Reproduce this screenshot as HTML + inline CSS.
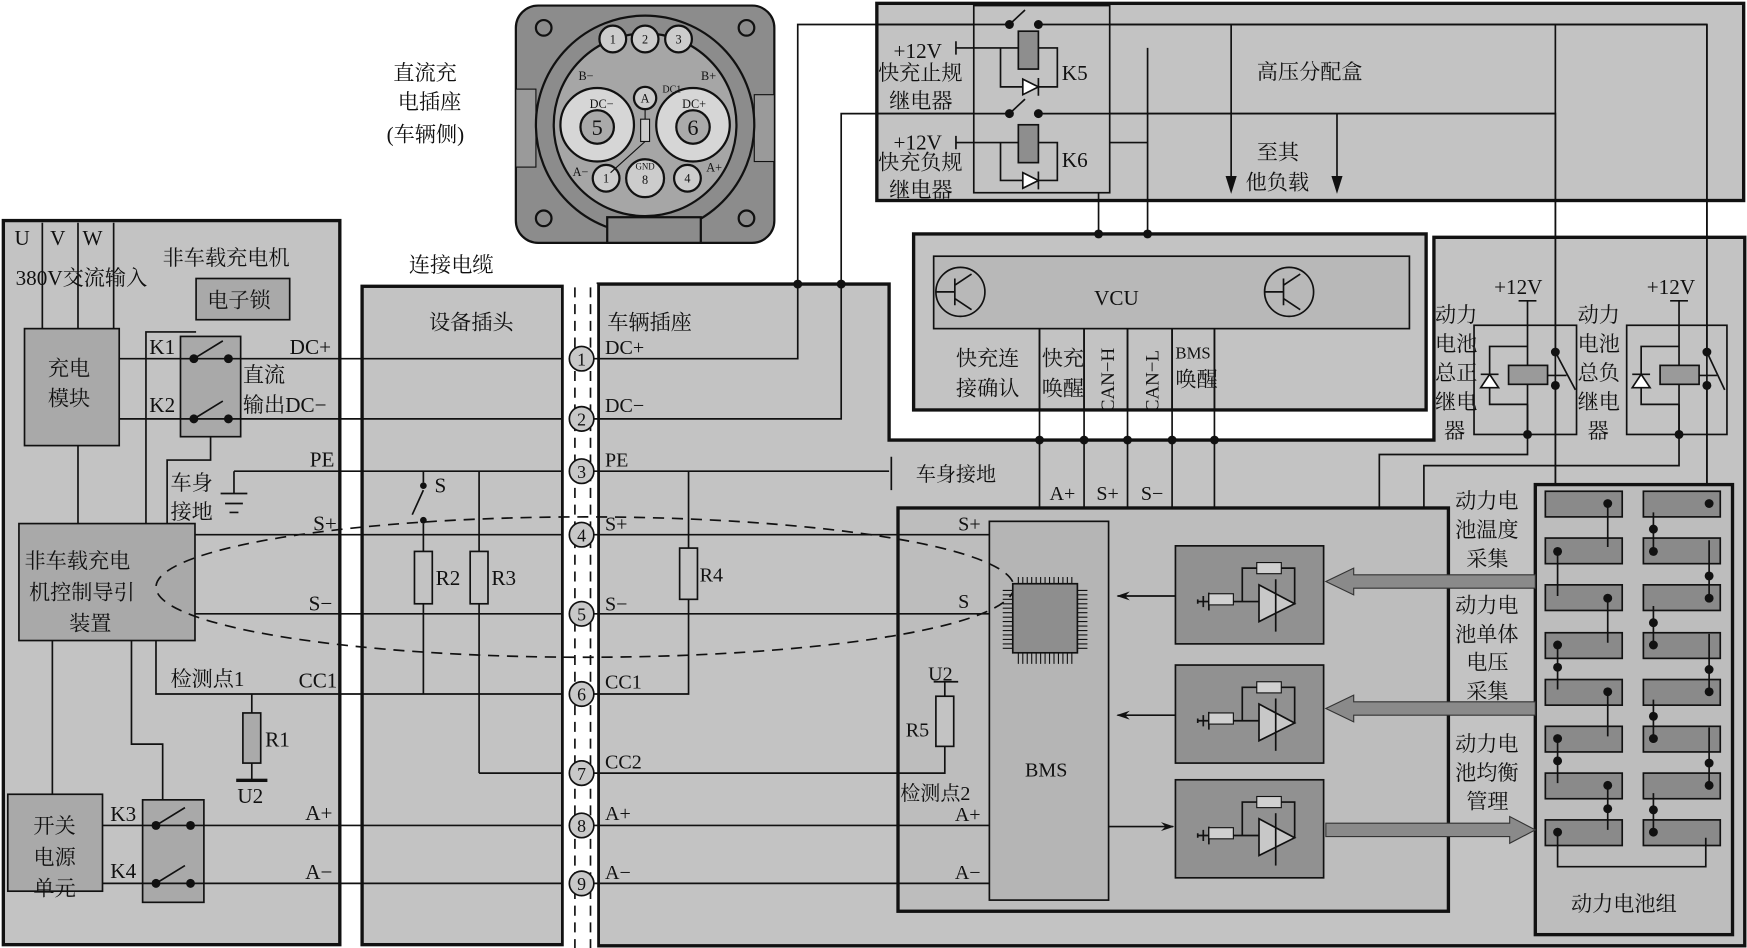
<!DOCTYPE html>
<html><head><meta charset="utf-8"><style>
html,body{margin:0;padding:0;background:#fff}
svg{display:block}
text{font-family:"Liberation Serif","Noto Serif CJK SC",serif;fill:#111}
</style></head><body>
<svg width="1747" height="948" viewBox="0 0 1568 851" preserveAspectRatio="none" xmlns="http://www.w3.org/2000/svg">
<defs>
<marker id="ar" markerWidth="12" markerHeight="8" refX="11" refY="4" orient="auto" markerUnits="userSpaceOnUse"><path d="M0,0 L12,4 L0,8 L4,4z" fill="#111"/></marker>
</defs>
<g stroke="#111" stroke-width="1.5">
<rect x="3" y="198" width="302" height="650" fill="#c3c3c3" stroke-width="3"/>
<rect x="325" y="257" width="180" height="591" fill="#c3c3c3" stroke-width="3"/>
<polygon points="537,255 798,255 798,395 1287,395 1287,213 1566,213 1566,849 537,849" fill="#c3c3c3" stroke-width="3"/>
<rect x="787" y="3" width="778" height="177" fill="#c3c3c3" stroke-width="3"/>
<rect x="820" y="210" width="460" height="158" fill="#c3c3c3" stroke-width="3"/>
<rect x="838" y="230" width="427" height="65" fill="#b8b8b8"/>
<rect x="806" y="456" width="494" height="362" fill="#bdbdbd" stroke-width="3"/>
<rect x="888" y="468" width="107" height="340" fill="#b5b5b5"/>
<rect x="1378" y="435" width="177" height="404" fill="#bdbdbd" stroke-width="3"/>
</g>
<!-- charging port -->
<g stroke="#111" stroke-width="2">
<rect x="463" y="5" width="232" height="213" rx="20" fill="#8c8c8c"/>
<rect x="463" y="80" width="18" height="70" fill="#9a9a9a" stroke-width="1"/>
<rect x="677" y="85" width="18" height="60" fill="#9a9a9a" stroke-width="1"/>
<circle cx="579" cy="112" r="98" fill="#8c8c8c"/>
<circle cx="579" cy="112" r="82" fill="#a6a6a6"/>
<circle cx="488" cy="25" r="7" fill="#8c8c8c"/><circle cx="670" cy="25" r="7" fill="#8c8c8c"/>
<circle cx="488" cy="196" r="7" fill="#8c8c8c"/><circle cx="670" cy="196" r="7" fill="#8c8c8c"/>
<rect x="545" y="195" width="84" height="23" fill="#8c8c8c"/>
<circle cx="536" cy="112" r="33" fill="#d6d6d6"/><circle cx="536" cy="114" r="15" fill="#aaa"/>
<circle cx="622" cy="112" r="33" fill="#d6d6d6"/><circle cx="622" cy="114" r="15" fill="#aaa"/>
<circle cx="550" cy="35" r="12" fill="#ccc"/><circle cx="579" cy="35" r="12" fill="#ccc"/><circle cx="609" cy="35" r="12" fill="#ccc"/>
<circle cx="579" cy="88" r="10" fill="#ccc"/>
<circle cx="544" cy="160" r="12" fill="#ccc"/><circle cx="579" cy="160" r="17" fill="#ccc"/><circle cx="617" cy="160" r="12" fill="#ccc"/>
<rect x="575" y="107" width="8" height="20" fill="#ccc" stroke-width="1"/>
<line x1="579" y1="98" x2="579" y2="107" stroke-width="1"/><line x1="579" y1="127" x2="548" y2="155" stroke-width="1"/>
</g>
<g font-size="11" text-anchor="middle">
<text x="550" y="39">1</text><text x="579" y="39">2</text><text x="609" y="39">3</text><text x="579" y="92">A</text>
<text x="544" y="164">1</text><text x="579" y="165">8</text><text x="617" y="164">4</text>
<text x="526" y="72">B−</text><text x="636" y="72">B+</text><text x="603" y="83" font-size="9">DC1</text>
<text x="540" y="97">DC−</text><text x="623" y="97">DC+</text><text x="579" y="152" font-size="8">GND</text>
<text x="521" y="158">A−</text><text x="641" y="154">A+</text>
<text x="536" y="121" font-size="20">5</text><text x="622" y="121" font-size="20">6</text>
</g>
<g font-size="19">
<text x="353" y="72">直流充</text><text x="357" y="98">电插座</text><text x="347" y="127">(车辆侧)</text>
<text x="367" y="244">连接电缆</text>
<text x="385" y="296">设备插头</text><text x="545" y="296">车辆插座</text>
<text x="13" y="220">U</text><text x="45" y="220">V</text><text x="74" y="220">W</text>
<text x="146" y="238">非车载充电机</text><text x="14" y="256">380V交流输入</text>
</g>
<!-- left internal -->
<g stroke="#111" stroke-width="1.5" fill="#a9a9a9">
<rect x="22" y="295" width="85" height="105"/>
<rect x="176" y="250" width="84" height="37"/>
<rect x="162" y="302" width="54" height="90"/>
<rect x="17" y="470" width="158" height="105"/>
<rect x="7" y="713" width="85" height="87"/>
<rect x="128" y="718" width="55" height="92"/>
</g>
<g stroke="#111" stroke-width="1.5" fill="none">
<path d="M38,200V295M70,200V295M102,200V295"/>
<path d="M131,470V298H176"/>
<path d="M70,400V470"/>
<path d="M189,392V413H150V470"/>
<path d="M47,575V713"/><path d="M118,575V668H146V718"/>
<path d="M140,575V623H516"/>
<path d="M226,623V640M226,685V700"/>
<path d="M107,322H516M107,376H516"/>
<path d="M210,423H516M210,423V443M198,443H222M202,452H218M206,460H214"/>
<path d="M175,480H516M175,551H516"/>
<path d="M92,741H516M92,793H516"/>
<path d="M430,694H516"/>
<path d="M174,322L200,306M174,376L200,360M140,741L166,725M140,793L166,777"/>
<path d="M380,423V433M380,440L370,462M380,470V495M380,542V623"/>
<path d="M430,423V498M430,542V694"/>
</g>
<rect x="218" y="640" width="16" height="45" fill="#aaa" stroke="#111" stroke-width="1.5"/>
<rect x="212" y="699" width="28" height="3" fill="#111"/>
<rect x="372" y="495" width="16" height="47" fill="#c3c3c3" stroke="#111" stroke-width="1.5"/>
<rect x="422" y="495" width="16" height="47" fill="#c3c3c3" stroke="#111" stroke-width="1.5"/>
<g fill="#111">
<circle cx="174" cy="322" r="4"/><circle cx="205" cy="322" r="4"/><circle cx="174" cy="376" r="4"/><circle cx="205" cy="376" r="4"/>
<circle cx="140" cy="741" r="4"/><circle cx="171" cy="741" r="4"/><circle cx="140" cy="793" r="4"/><circle cx="171" cy="793" r="4"/>
<circle cx="380" cy="436" r="3"/><circle cx="380" cy="467" r="3"/>
</g>
<g font-size="19">
<text x="43" y="337">充电</text><text x="43" y="364">模块</text>
<text x="186" y="276">电子锁</text>
<text x="134" y="318">K1</text><text x="134" y="370">K2</text>
<text x="260" y="318">DC+</text><text x="218" y="343">直流</text><text x="218" y="370">输出DC−</text>
<text x="278" y="419">PE</text>
<text x="153" y="440">车身</text><text x="153" y="466">接地</text>
<text x="281" y="476">S+</text><text x="277" y="548">S−</text>
<text x="22" y="510">非车载充电</text><text x="26" y="538">机控制导引</text><text x="62" y="566">装置</text>
<text x="153" y="616">检测点1</text><text x="268" y="617">CC1</text>
<text x="238" y="670">R1</text><text x="213" y="721">U2</text>
<text x="30" y="748">开关</text><text x="30" y="776">电源</text><text x="30" y="804">单元</text>
<text x="99" y="737">K3</text><text x="99" y="788">K4</text>
<text x="274" y="736">A+</text><text x="274" y="789">A−</text>
<text x="390" y="442">S</text><text x="391" y="525">R2</text><text x="441" y="525">R3</text>
</g>
<rect x="506" y="255" width="30" height="596" fill="#fff"/>
<g stroke="#111" stroke-width="1.5" fill="none">
<path d="M516,258V851M530,258V851" stroke-dasharray="9,6"/>
</g>
<!-- vehicle side lines -->
<g stroke="#111" stroke-width="1.5" fill="none">
<path d="M528,322H716V22H1532V435"/>
<path d="M528,376H755V102H1396V435"/>
<path d="M528,423H798M800,410V440"/>
<path d="M528,480H888M528,551H888M528,741H888M528,793H888"/>
<path d="M528,694H848V670M848,625V612M838,612H860"/>
<path d="M528,623H618V538M618,492V423"/>
<path d="M1105,22V170M1200,102V170"/>
<path d="M1030,43V210M986,128V210M949,128H1030"/>
<path d="M933,295V456M973,295V456M1012,295V456M1052,295V456M1090,295V456"/>
<path d="M933,395H1090"/>
<path d="M1371,363V408H1238V456M1507,363V418H1278V456"/>
</g>
<rect x="610" y="492" width="16" height="46" fill="#c3c3c3" stroke="#111" stroke-width="1.5"/>
<rect x="840" y="625" width="16" height="45" fill="#c3c3c3" stroke="#111" stroke-width="1.5"/>
<g fill="#111"><circle cx="716" cy="255" r="4"/><circle cx="755" cy="255" r="4"/>
<circle cx="986" cy="210" r="4"/><circle cx="1030" cy="210" r="4"/>
<circle cx="933" cy="395" r="4"/><circle cx="973" cy="395" r="4"/><circle cx="1012" cy="395" r="4"/><circle cx="1052" cy="395" r="4"/><circle cx="1090" cy="395" r="4"/>
<path d="M1100,158L1105,174L1110,158z"/><path d="M1195,158L1200,174L1205,158z"/></g>
<g stroke="#111" stroke-width="1.5" fill="#c8c8c8">
<circle cx="522" cy="322" r="11"/><circle cx="522" cy="376" r="11"/><circle cx="522" cy="423" r="11"/>
<circle cx="522" cy="480" r="11"/><circle cx="522" cy="551" r="11"/><circle cx="522" cy="623" r="11"/>
<circle cx="522" cy="694" r="11"/><circle cx="522" cy="741" r="11"/><circle cx="522" cy="793" r="11"/>
</g>
<g font-size="16" text-anchor="middle">
<text x="522" y="328">1</text><text x="522" y="382">2</text><text x="522" y="429">3</text><text x="522" y="486">4</text><text x="522" y="557">5</text><text x="522" y="629">6</text><text x="522" y="700">7</text><text x="522" y="747">8</text><text x="522" y="799">9</text>
</g>
<ellipse cx="525" cy="527" rx="385" ry="63" fill="none" stroke="#111" stroke-width="1.5" stroke-dasharray="10,7"/>
<g font-size="18">
<text x="543" y="318">DC+</text><text x="543" y="370">DC−</text><text x="543" y="419">PE</text>
<text x="543" y="476">S+</text><text x="543" y="548">S−</text><text x="543" y="618">CC1</text>
<text x="543" y="690">CC2</text><text x="543" y="736">A+</text><text x="543" y="789">A−</text>
<text x="628" y="522">R4</text><text x="822" y="432">车身接地</text>
<text x="942" y="449">A+</text><text x="984" y="449">S+</text><text x="1024" y="449">S−</text>
<text x="860" y="476">S+</text><text x="860" y="546">S</text>
<text x="833" y="611">U2</text><text x="813" y="661">R5</text>
<text x="808" y="718">检测点2</text><text x="857" y="737">A+</text><text x="857" y="789">A−</text>
<text x="920" y="697">BMS</text>
</g>
<!-- HV relays -->
<rect x="874" y="5" width="122" height="168" fill="#c3c3c3" stroke="#111" stroke-width="1.5"/>
<g stroke="#111" stroke-width="1.5" fill="none">
<path d="M787,22H906M932,22H1532M787,102H906M932,102H1396"/>
<path d="M858,43H949V78H898V43M858,128H949V162H898V128"/>
<path d="M858,37V49M858,122V134"/>
<path d="M906,22L920,9M906,102L920,89"/>
<path d="M918,71L932,78L918,85zM918,155L932,162L918,169z" fill="#fff"/>
<path d="M932,70V86M932,154V170"/>
</g>
<rect x="914" y="28" width="18" height="34" fill="#8e8e8e" stroke="#111" stroke-width="1.5"/>
<rect x="914" y="112" width="18" height="34" fill="#8e8e8e" stroke="#111" stroke-width="1.5"/>
<g fill="#111"><circle cx="906" cy="22" r="4"/><circle cx="932" cy="22" r="4"/><circle cx="906" cy="102" r="4"/><circle cx="932" cy="102" r="4"/></g>
<g font-size="19">
<text x="802" y="52">+12V</text><text x="788" y="72">快充止规</text><text x="798" y="97">继电器</text>
<text x="802" y="134">+12V</text><text x="788" y="152">快充负规</text><text x="798" y="177">继电器</text>
<text x="953" y="72">K5</text><text x="953" y="150">K6</text>
<text x="1128" y="71">高压分配盒</text><text x="1128" y="143">至其</text><text x="1118" y="170">他负载</text>
</g>
<!-- VCU -->
<g stroke="#111" stroke-width="1.5" fill="none">
<circle cx="862" cy="262" r="22"/><circle cx="1157" cy="262" r="22"/>
<path d="M857,250V274M857,262H840M857,256L872,246M857,268L872,278M1152,250V274M1152,262H1135M1152,256L1167,246M1152,268L1167,278"/>
<path d="M933,295V368M973,295V368M1012,295V368M1052,295V368M1090,295V368"/>
</g>
<g font-size="19">
<text x="982" y="274">VCU</text>
<text x="858" y="328">快充连</text><text x="858" y="355">接确认</text>
<text x="935" y="328">快充</text><text x="935" y="355">唤醒</text>
<text x="1055" y="322" font-size="15">BMS</text><text x="1055" y="347">唤醒</text>
<text transform="translate(1000,370) rotate(-90)" font-size="17">CAN−H</text>
<text transform="translate(1040,370) rotate(-90)" font-size="17">CAN−L</text>
</g>
<!-- BMS chip -->
<g stroke="#111" stroke-width="1">
<path d="M914,518V596M918,518V596M922,518V596M926,518V596M930,518V596M934,518V596M938,518V596M942,518V596M946,518V596M950,518V596M954,518V596M958,518V596M962,518V596"/>
<path d="M900,530H976M900,534H976M900,538H976M900,542H976M900,546H976M900,550H976M900,554H976M900,558H976M900,562H976M900,566H976M900,570H976M900,574H976M900,578H976M900,582H976"/>
</g>
<rect x="909" y="524" width="58" height="62" fill="#8e8e8e" stroke="#111" stroke-width="1.5"/>
<g id="amp">
<rect x="1055" y="490" width="133" height="88" fill="#919191" stroke="#111" stroke-width="1.5"/>
<g stroke="#111" stroke-width="1.5" fill="none">
<path d="M1075,540H1085M1085,532V548M1080,535V545M1075,538V542M1085,540H1115V510H1162V542H1150M1115,540H1130"/>
<path d="M1130,525L1162,542L1130,558z" fill="#c8c8c8"/>
<path d="M1145,520V567"/>
</g>
<rect x="1085" y="533" width="22" height="10" fill="#d0d0d0" stroke="#111"/>
<rect x="1128" y="505" width="22" height="10" fill="#d0d0d0" stroke="#111"/>
</g>
<use href="#amp" y="107"/>
<use href="#amp" y="210"/>
<g stroke="#111" stroke-width="1.5">
<line x1="1055" y1="535" x2="1003" y2="535" marker-end="url(#ar)"/>
<line x1="1055" y1="642" x2="1003" y2="642" marker-end="url(#ar)"/>
<line x1="995" y1="742" x2="1053" y2="742" marker-end="url(#ar)"/>
</g>
<g fill="#8a8a8a" stroke="#333" stroke-width="1">
<path d="M1378,516H1215V510L1190,522L1215,534V528H1378z"/>
<path d="M1378,630H1215V624L1190,636L1215,648V642H1378z"/>
<path d="M1190,739H1355V733L1378,745L1355,757V751H1190z"/>
</g>
<g font-size="19">
<text x="1306" y="456">动力电</text><text x="1306" y="482">池温度</text><text x="1316" y="508">采集</text>
<text x="1306" y="550">动力电</text><text x="1306" y="576">池单体</text><text x="1316" y="601">电压</text><text x="1316" y="627">采集</text>
<text x="1306" y="674">动力电</text><text x="1306" y="700">池均衡</text><text x="1316" y="726">管理</text>
<text x="1410" y="818">动力电池组</text>
</g>
<!-- relays right -->
<g stroke="#111" stroke-width="1.5" fill="none">
<rect x="1323" y="292" width="92" height="98"/>
<rect x="1460" y="292" width="90" height="98"/>
<path d="M1363,270H1379M1499,270H1515"/>
<path d="M1371,270V328M1371,345V390M1507,270V328M1507,345V390"/>
<path d="M1371,311H1337V363H1371M1507,311H1473V363H1507"/>
<path d="M1389,337H1406M1525,337H1541"/>
<path d="M1396,22V316M1396,346V435M1396,316L1414,350M1532,22V316M1532,346V435M1532,316L1548,350"/>
<path d="M1329,348L1337,336L1345,348zM1465,348L1473,336L1481,348z" fill="#fff"/>
<path d="M1329,336H1345M1465,336H1481"/>
</g>
<rect x="1354" y="328" width="35" height="17" fill="#9a9a9a" stroke="#111" stroke-width="1.5"/>
<rect x="1490" y="328" width="35" height="17" fill="#9a9a9a" stroke="#111" stroke-width="1.5"/>
<g fill="#111"><circle cx="1396" cy="316" r="4"/><circle cx="1396" cy="346" r="4"/><circle cx="1532" cy="316" r="4"/><circle cx="1532" cy="346" r="4"/>
<circle cx="1371" cy="390" r="4"/><circle cx="1507" cy="390" r="4"/></g>
<g font-size="19">
<text x="1341" y="264">+12V</text><text x="1478" y="264">+12V</text>
<text x="1288" y="289">动力</text><text x="1288" y="315">电池</text><text x="1288" y="341">总正</text><text x="1288" y="367">继电</text><text x="1296" y="393">器</text>
<text x="1416" y="289">动力</text><text x="1416" y="315">电池</text><text x="1416" y="341">总负</text><text x="1416" y="367">继电</text><text x="1425" y="393">器</text>
</g>
<!-- battery cells -->
<g fill="#8a8a8a" stroke="#111" stroke-width="1.5">
<rect x="1387" y="441" width="69" height="23"/><rect x="1475" y="441" width="69" height="23"/>
<rect x="1387" y="483" width="69" height="23"/><rect x="1475" y="483" width="69" height="23"/>
<rect x="1387" y="525" width="69" height="23"/><rect x="1475" y="525" width="69" height="23"/>
<rect x="1387" y="568" width="69" height="23"/><rect x="1475" y="568" width="69" height="23"/>
<rect x="1387" y="610" width="69" height="23"/><rect x="1475" y="610" width="69" height="23"/>
<rect x="1387" y="652" width="69" height="23"/><rect x="1475" y="652" width="69" height="23"/>
<rect x="1387" y="694" width="69" height="23"/><rect x="1475" y="694" width="69" height="23"/>
<rect x="1387" y="736" width="69" height="23"/><rect x="1475" y="736" width="69" height="23"/>
</g>
<g stroke="#111" stroke-width="1.5" fill="none">
<path d="M1443,452V491M1398,495V535M1443,537V577M1398,579V619M1443,621V661M1398,663V703M1443,705V745"/>
<path d="M1484,460V495M1534,485V537M1484,544V579M1534,569V621M1484,628V663M1534,653V705M1484,712V747"/>
<path d="M1398,747V778H1531V752"/>
</g>
<g fill="#111">
<circle cx="1443" cy="452" r="4"/><circle cx="1398" cy="495" r="4"/><circle cx="1443" cy="537" r="4"/><circle cx="1398" cy="579" r="4"/><circle cx="1398" cy="599" r="4"/><circle cx="1443" cy="621" r="4"/><circle cx="1398" cy="663" r="4"/><circle cx="1398" cy="683" r="4"/><circle cx="1443" cy="705" r="4"/><circle cx="1443" cy="726" r="4"/><circle cx="1398" cy="747" r="4"/>
<circle cx="1534" cy="452" r="4"/><circle cx="1484" cy="475" r="4"/><circle cx="1484" cy="495" r="4"/><circle cx="1534" cy="517" r="4"/><circle cx="1534" cy="537" r="4"/><circle cx="1484" cy="559" r="4"/><circle cx="1484" cy="579" r="4"/><circle cx="1534" cy="601" r="4"/><circle cx="1534" cy="621" r="4"/><circle cx="1484" cy="643" r="4"/><circle cx="1484" cy="663" r="4"/><circle cx="1534" cy="685" r="4"/><circle cx="1534" cy="705" r="4"/><circle cx="1484" cy="727" r="4"/><circle cx="1484" cy="747" r="4"/>
</g>
</svg>
</body></html>
